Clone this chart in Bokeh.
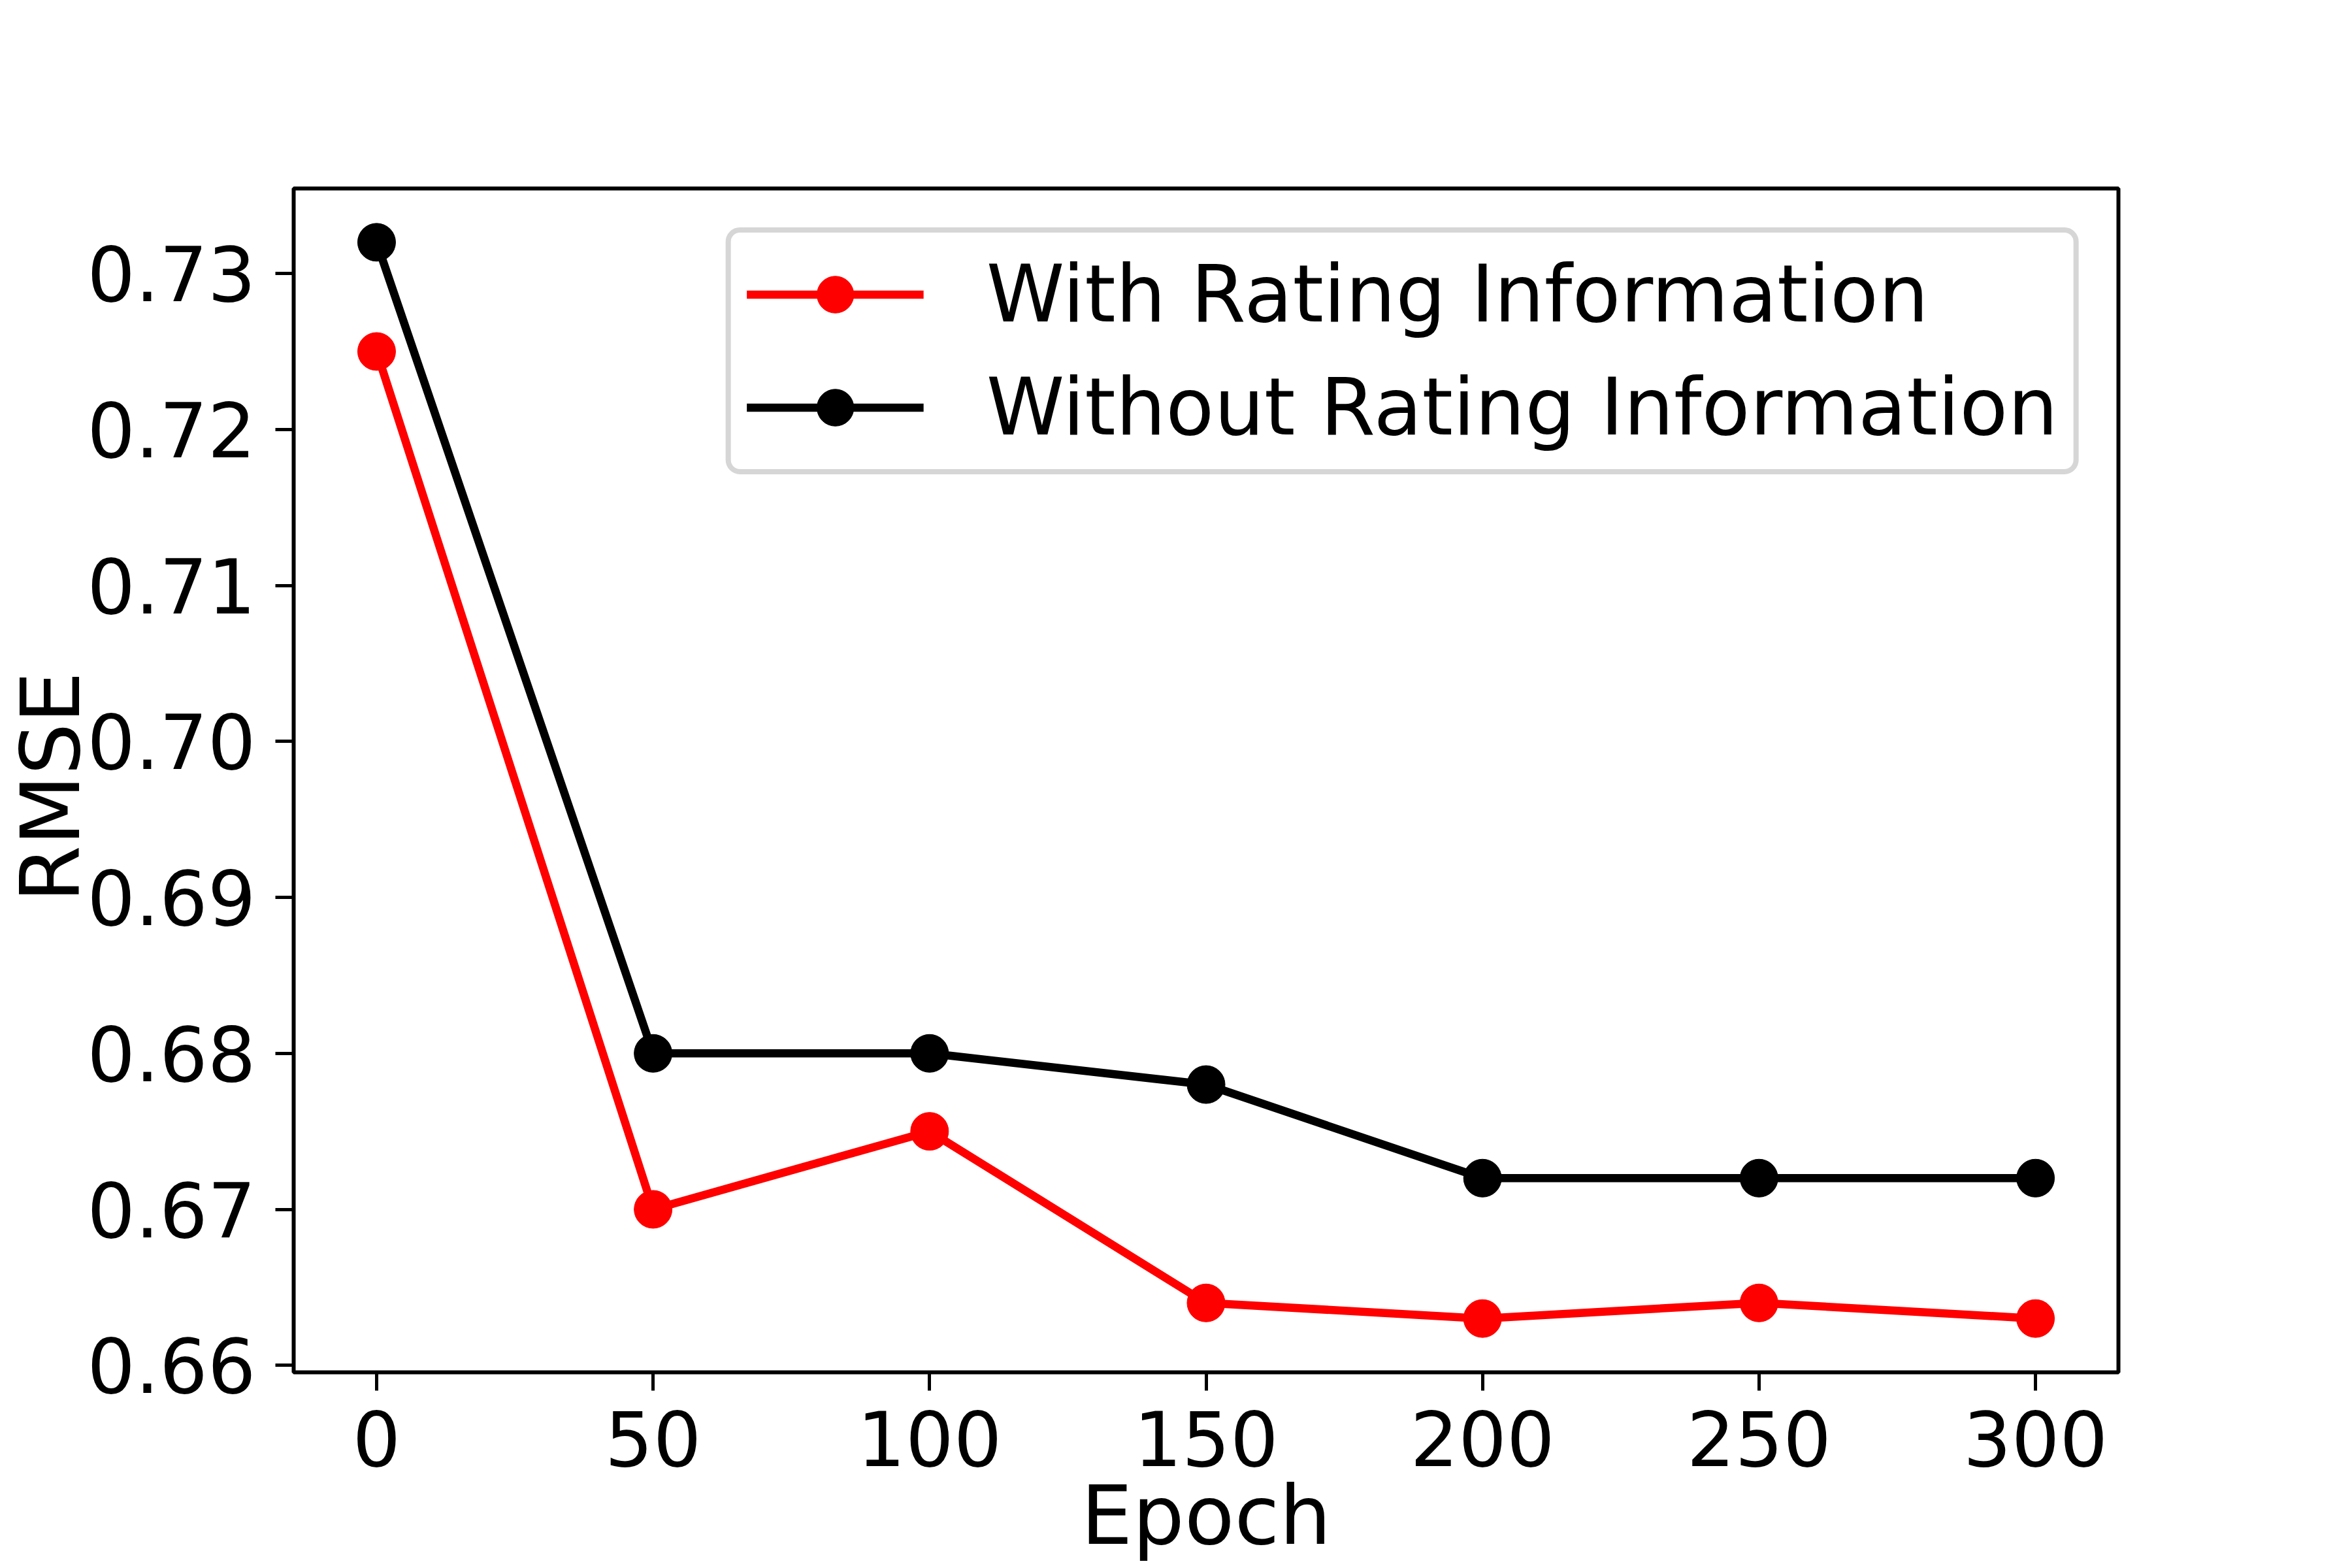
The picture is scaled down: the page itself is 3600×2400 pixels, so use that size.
import math
from bokeh.plotting import figure
from bokeh.models import Range1d, FixedTicker, PrintfTickFormatter, Legend, LegendItem, Label
from bokeh.embed import file_html
from bokeh.resources import INLINE

# ---- data ----
epochs = [0, 50, 100, 150, 200, 250, 300]
rmse_with = [0.725, 0.670, 0.675, 0.664, 0.663, 0.664, 0.663]
rmse_without = [0.732, 0.680, 0.680, 0.678, 0.672, 0.672, 0.672]
x_ticks = [0, 50, 100, 150, 200, 250, 300]
y_ticks = [0.66, 0.67, 0.68, 0.69, 0.70, 0.71, 0.72, 0.73]
label_with = "With Rating Information"
label_without = "Without Rating Information"
x_title = "Epoch"
y_title = "RMSE"

FONT = "DejaVu Sans"
W, H = 3600, 2400
BL, BR, BT, BB = 449, 358, 288, 300
FW, FH = W - BL - BR, H - BT - BB
x0, x1 = -15, 315
y0, y1 = 0.65955, 0.73545

p = figure(width=W, height=H, output_backend="svg", toolbar_location=None,
           x_range=Range1d(x0, x1), y_range=Range1d(y0, y1),
           min_border_left=BL, min_border_right=BR, min_border_top=BT, min_border_bottom=BB)
p.background_fill_color = "white"
p.border_fill_color = "white"
p.grid.visible = False
p.outline_line_color = "black"
p.outline_line_width = 6

for ax in (p.xaxis, p.yaxis):
    ax.axis_line_color = None
    ax.major_tick_line_color = "black"
    ax.major_tick_line_width = 5
    ax.major_tick_out = 28
    ax.major_tick_in = 0
    ax.minor_tick_line_color = None
    ax.major_label_text_font = FONT
    ax.major_label_text_color = "black"
    ax.major_label_text_font_size = "116px"
    ax.axis_label_text_font = FONT
    ax.axis_label_text_font_style = "normal"
    ax.axis_label_text_color = "black"
    ax.axis_label_text_font_size = "125px"

p.xaxis.axis_label = x_title
p.xaxis.axis_label_standoff = 0
p.xaxis.ticker = FixedTicker(ticks=x_ticks)
p.yaxis.ticker = FixedTicker(ticks=y_ticks)
p.yaxis.formatter = PrintfTickFormatter(format="%.2f")
p.xaxis.major_label_standoff = 30
p.yaxis.major_label_standoff = 30

# y-axis title as a label in a side panel (not clipped), positioned via the plot's scales
ux = (x1 - x0) / FW
uy = (y1 - y0) / FH
ylab = Label(x=x0 - 372 * ux, y=y1 - 916 * uy, text=y_title, angle=math.pi / 2,
             text_align="center", text_baseline="middle",
             text_font=FONT, text_font_size="125px", text_color="black")
p.add_layout(ylab, "right")

r1l = p.line(epochs, rmse_with, line_color="#ff0000", line_width=12.5)
r1s = p.scatter(epochs, rmse_with, size=58, fill_color="#ff0000", line_color="#ff0000")
r2l = p.line(epochs, rmse_without, line_color="black", line_width=12.5)
r2s = p.scatter(epochs, rmse_without, size=58, fill_color="black", line_color="black")

legend = Legend(items=[LegendItem(label=label_with, renderers=[r1l, r1s]),
                       LegendItem(label=label_without, renderers=[r2l, r2s])],
                location="top_right", margin=60)
legend.label_text_font = FONT
legend.label_text_font_size = "121px"
legend.label_text_color = "black"
legend.glyph_width = 271
legend.glyph_height = 141
legend.label_height = 141
legend.label_standoff = 96
legend.spacing = 32
legend.padding = 24
legend.border_line_color = "#d6d6d6"
legend.border_line_width = 8
legend.border_line_alpha = 1
legend.background_fill_color = "white"
legend.background_fill_alpha = 1
try:
    legend.border_radius = 22
except Exception:
    pass
p.add_layout(legend, "center")

open("out.html", "w").write(file_html(p, INLINE))
